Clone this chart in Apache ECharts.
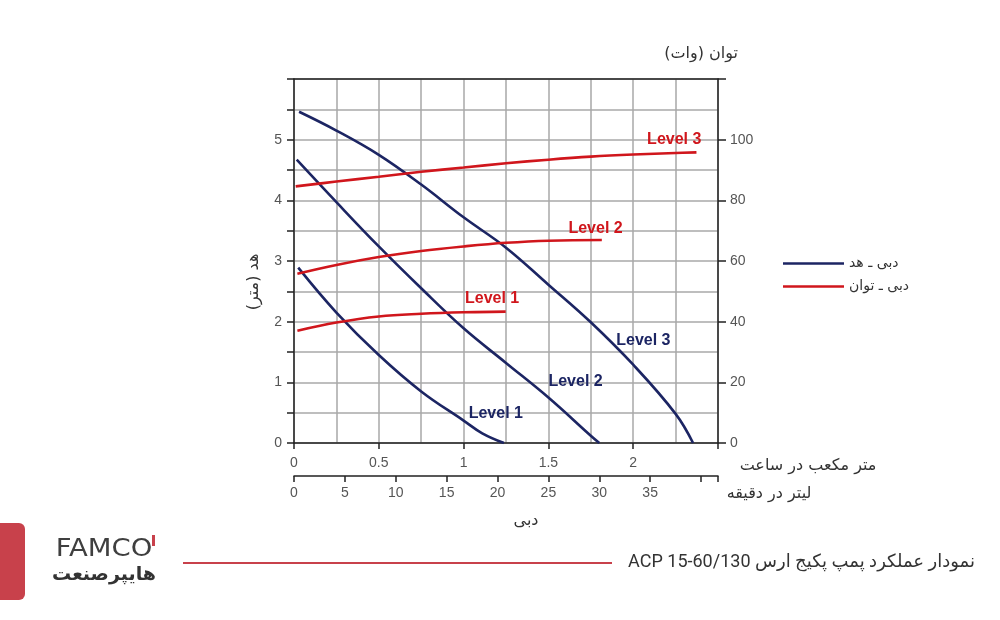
<!DOCTYPE html>
<html>
<head>
<meta charset="utf-8">
<script src="https://cdn.jsdelivr.net/npm/echarts@6/dist/echarts.min.js"></script>
<style>
html,body{margin:0;padding:0;background:#fff;}
#c{width:1000px;height:620px;}
</style>
</head>
<body>
<div id="c" dir="rtl"></div>
<script>
// ---- data (flow in m3/h, head in m, power in W) ----
const headFlow1 = [0.025, 0.25, 0.5, 0.75, 1.0, 1.11, 1.238];
const headLevel1 = [2.89, 2.15, 1.45, 0.85, 0.37, 0.16, 0];
const headFlow2 = [0.016, 0.25, 0.5, 0.75, 1.0, 1.25, 1.5, 1.75, 1.80];
const headLevel2 = [4.67, 3.97, 3.24, 2.55, 1.89, 1.32, 0.75, 0.12, 0];
const headFlow3 = [0.03, 0.25, 0.5, 0.75, 1.0, 1.25, 1.5, 1.75, 2.0, 2.25, 2.353];
const headLevel3 = [5.46, 5.15, 4.75, 4.26, 3.72, 3.22, 2.61, 1.99, 1.29, 0.48, 0];

const powerFlow1 = [0.02, 0.25, 0.5, 0.75, 1.0, 1.248];
const powerLevel1 = [37.0, 39.7, 41.7, 42.6, 43.1, 43.3];
const powerFlow2 = [0.02, 0.25, 0.5, 0.75, 1.0, 1.25, 1.5, 1.815];
const powerLevel2 = [55.8, 58.7, 61.3, 63.3, 64.8, 66.0, 66.7, 66.9];
const powerFlow3 = [0.01, 0.25, 0.5, 0.75, 1.0, 1.25, 1.5, 1.75, 2.0, 2.25, 2.373];
const powerLevel3 = [84.6, 86.2, 87.8, 89.4, 90.8, 92.2, 93.4, 94.4, 95.1, 95.6, 95.8];

const levelNames = ['Level 1', 'Level 2', 'Level 3'];
// label anchor points (data units)
const headLabelAt = [[1.19, 0.48], [1.66, 1.02], [2.06, 1.68]];
const powerLabelAt = [[1.168, 47.5], [1.778, 70.6], [2.242, 100.0]];

const legendHead = 'دبی ـ هد';
const legendPower = 'دبی ـ توان';

// ---- styles ----
const BLUE = '#1c2563';
const RED = '#d0161c';
const GRID = '#a8a8a8';
const AXIS = '#222';
const TICKTXT = '#555';
const LATIN = 'Liberation Sans, Arial, sans-serif';
const FA = 'DejaVu Sans, sans-serif';

function pairs(xs, ys) { return xs.map((x, i) => [x, ys[i]]); }

function curve(name, xs, ys, color, yIdx, label, at) {
  return {
    name: name, type: 'line', xAxisIndex: 0, yAxisIndex: yIdx,
    data: pairs(xs, ys), symbol: 'none', showSymbol: false, smooth: 0.4,
    lineStyle: { color: color, width: 2.6 }, itemStyle: { color: color },
    markPoint: {
      silent: true, symbol: 'circle', symbolSize: 1,
      itemStyle: { color: 'rgba(0,0,0,0)' },
      label: { show: true, position: 'inside', formatter: label, color: color,
               fontWeight: 'bold', fontSize: 16, fontFamily: LATIN },
      data: [{ coord: at }]
    }
  };
}

const series = [];
const hf = [headFlow1, headFlow2, headFlow3], hl = [headLevel1, headLevel2, headLevel3];
const pf = [powerFlow1, powerFlow2, powerFlow3], pl = [powerLevel1, powerLevel2, powerLevel3];
for (let i = 0; i < 3; i++) series.push(curve(legendHead, hf[i], hl[i], BLUE, 0, levelNames[i], headLabelAt[i]));
for (let i = 0; i < 3; i++) series.push(curve(legendPower, pf[i], pl[i], RED, 1, levelNames[i], powerLabelAt[i]));

const chart = echarts.init(document.getElementById('c'), null, { renderer: 'canvas' });
chart.setOption({
  animation: false,
  backgroundColor: '#fff',
  grid: { left: 294, right: 282, top: 79, bottom: 177, containLabel: false },
  legend: {
    data: [legendHead, legendPower], orient: 'vertical', left: 778, top: 251,
    icon: 'rect', itemWidth: 61, itemHeight: 2.5, itemGap: 8,
    textStyle: { fontFamily: FA, fontSize: 14, color: '#333', lineHeight: 15 }
  },
  xAxis: [
    {
      type: 'value', min: 0, max: 2.5, interval: 0.5, position: 'bottom',
      axisLine: { show: true, onZero: false, lineStyle: { color: AXIS, width: 1.5 } },
      axisTick: { show: true, length: 6, lineStyle: { color: AXIS, width: 1.5 } },
      axisLabel: { formatter: v => (v >= 2.5 ? '' : String(v)), margin: 13, color: TICKTXT, fontSize: 14, fontFamily: LATIN },
      splitLine: { show: true, lineStyle: { color: GRID, width: 1.5 } },
      minorTick: { show: false, splitNumber: 2 },
      minorSplitLine: { show: true, lineStyle: { color: GRID, width: 1.5 } }
    },
    {
      type: 'value', min: 0, max: 2.5 * 1000 / 60, interval: 5, position: 'bottom', offset: 33,
      axisLine: { show: true, onZero: false, lineStyle: { color: AXIS, width: 1.5 } },
      axisTick: { show: true, length: 6, lineStyle: { color: AXIS, width: 1.5 } },
      axisLabel: { formatter: v => (v >= 40 ? '' : String(v)), margin: 10, color: TICKTXT, fontSize: 14, fontFamily: LATIN },
      splitLine: { show: false }
    },
    {
      type: 'value', min: 0, max: 2.5, position: 'top',
      axisLine: { show: true, onZero: false, lineStyle: { color: AXIS, width: 1.5 } },
      axisTick: { show: false }, axisLabel: { show: false }, splitLine: { show: false }
    }
  ],
  yAxis: [
    {
      type: 'value', min: 0, max: 6, interval: 0.5, position: 'left',
      axisLine: { show: true, onZero: false, lineStyle: { color: AXIS, width: 1.5 } },
      axisTick: { show: true, length: 7, lineStyle: { color: AXIS, width: 1.5 } },
      axisLabel: { formatter: v => ((Math.abs(v % 1) < 1e-9 && v < 6) ? String(v) : ''), margin: 12, color: TICKTXT, fontSize: 14, fontFamily: LATIN },
      splitLine: { show: true, lineStyle: { color: GRID, width: 1.5 } }
    },
    {
      type: 'value', min: 0, max: 120, interval: 20, position: 'right',
      axisLine: { show: true, onZero: false, lineStyle: { color: AXIS, width: 1.5 } },
      axisTick: { show: true, length: 8, lineStyle: { color: AXIS, width: 1.5 } },
      axisLabel: { formatter: v => (v >= 120 ? '' : String(v)), margin: 12, color: TICKTXT, fontSize: 14, fontFamily: LATIN },
      splitLine: { show: false }
    }
  ],
  series: series,
  graphic: [
    { type: 'text', x: 738, y: 54, style: { text: 'توان (وات)', fill: '#333', font: '16px ' + FA, textAlign: 'right', textVerticalAlign: 'middle' } },
    { type: 'text', x: 254, y: 282, rotation: Math.PI / 2, style: { text: 'هد (متر)', fill: '#333', font: '16px ' + FA, textAlign: 'center', textVerticalAlign: 'middle' } },
    { type: 'text', x: 808, y: 466, style: { text: 'متر مکعب در ساعت', fill: '#333', font: '16px ' + FA, textAlign: 'center', textVerticalAlign: 'middle' } },
    { type: 'text', x: 769, y: 494, style: { text: 'لیتر در دقیقه', fill: '#333', font: '16px ' + FA, textAlign: 'center', textVerticalAlign: 'middle' } },
    { type: 'text', x: 526, y: 521, style: { text: 'دبی', fill: '#333', font: '16px ' + FA, textAlign: 'center', textVerticalAlign: 'middle' } },
    { type: 'rect', shape: { x: -10, y: 523, width: 35, height: 77, r: 6 }, style: { fill: '#c8414b' } },
    { type: 'text', x: 104, y: 549, scaleX: 1.1, style: { text: 'FAMCO', fill: '#3f3f3f', font: '25px ' + FA, textAlign: 'center', textVerticalAlign: 'middle' } },
    { type: 'rect', shape: { x: 152, y: 535, width: 3, height: 11 }, style: { fill: '#c8414b' } },
    { type: 'text', x: 104, y: 575, style: { text: 'هایپرصنعت', fill: '#333', font: 'bold 19px ' + FA, textAlign: 'center', textVerticalAlign: 'middle' } },
    { type: 'line', shape: { x1: 183, y1: 563, x2: 612, y2: 563 }, style: { stroke: '#c8414b', lineWidth: 2 } },
    { type: 'text', x: 975, y: 562, style: { text: 'نمودار عملکرد پمپ پکیج ارس ACP 15-60/130', fill: '#333', font: '18px Roboto, ' + FA, textAlign: 'right', textVerticalAlign: 'middle' } }
  ]
});
</script>
</body>
</html>
